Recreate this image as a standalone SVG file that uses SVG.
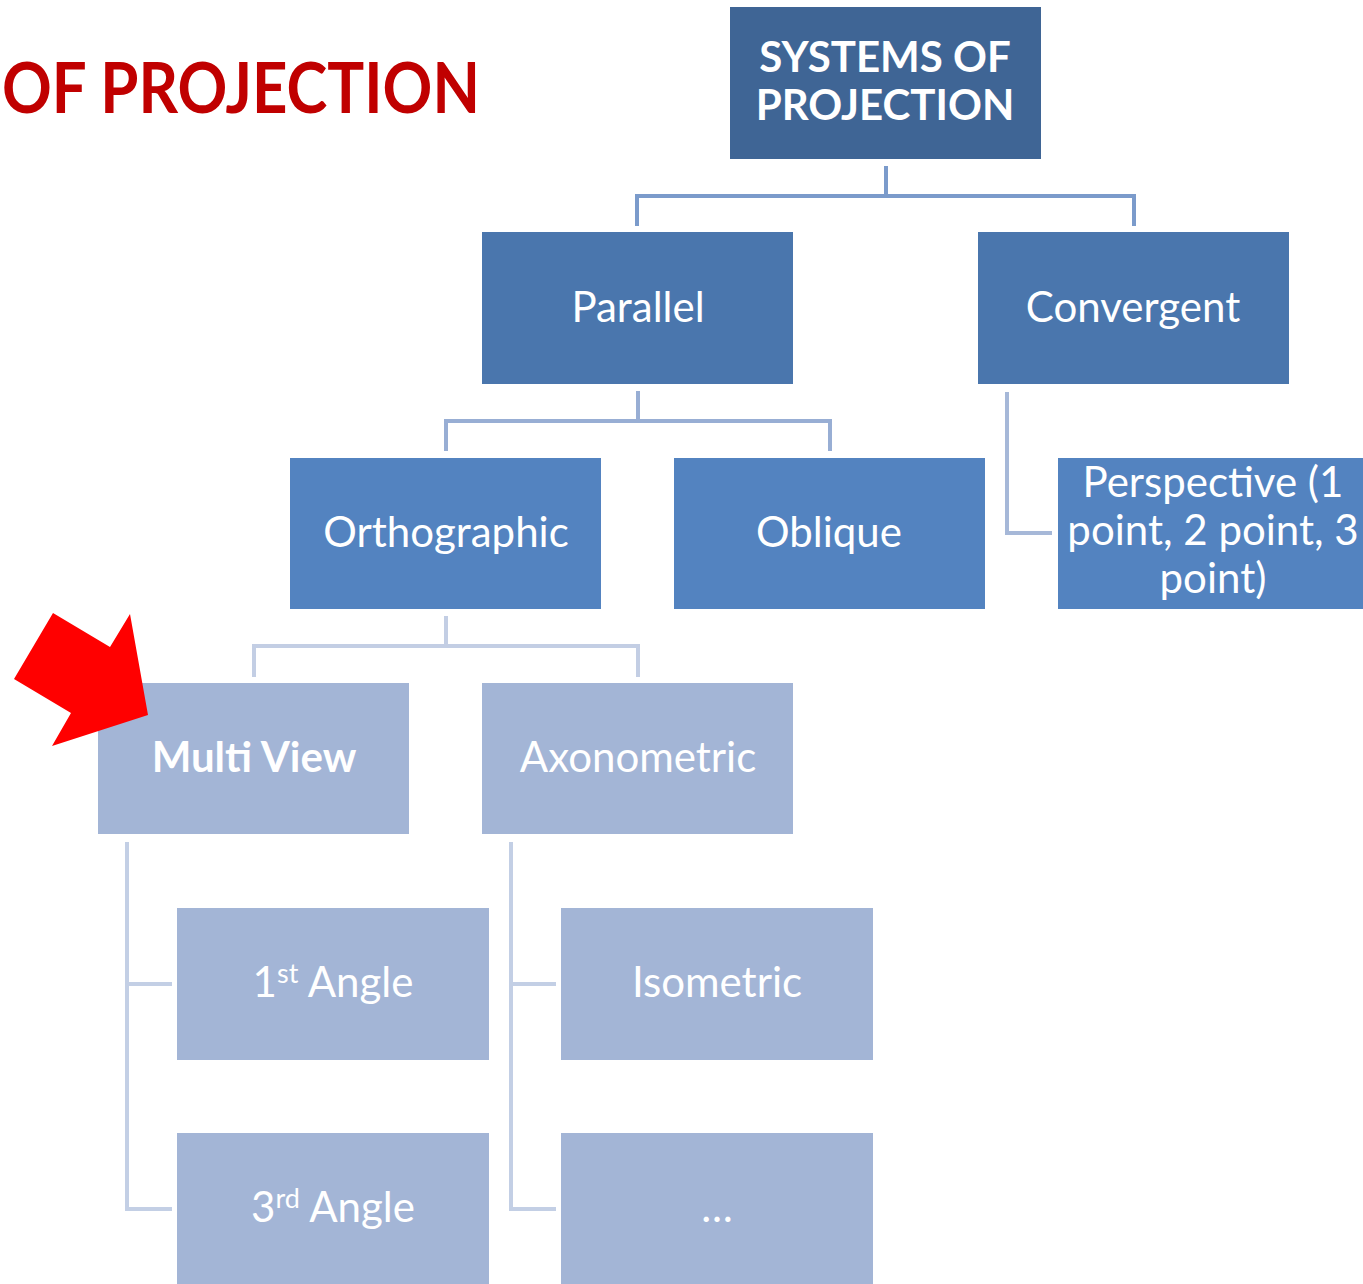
<svg xmlns="http://www.w3.org/2000/svg" width="1363" height="1284" viewBox="0 0 1363 1284">
<style>
.t{font-family:Lato,"Open Sans","Liberation Sans",sans-serif;fill:#fff;text-anchor:middle;font-size:42px}
.b{font-weight:bold}
.l1{fill:#3F6595}
.l2{fill:#4A76AD}
.l3{fill:#5383C0}
.l4{fill:#A3B5D6}
.c{fill:none;stroke-width:4;stroke-linejoin:miter;stroke-linecap:butt}
.sup{font-size:27px}
</style>
<rect width="1363" height="1284" fill="#fff"/>
<text x="2" y="113" textLength="478" lengthAdjust="spacingAndGlyphs" font-family="Lato,'Open Sans','Liberation Sans',sans-serif" font-weight="bold" font-size="70" fill="#C00000">OF PROJECTION</text>
<g id="connectors">
<path class="c" stroke="#7B9BCB" d="M886 166V196M637 226V196H1134V226"/>
<path class="c" stroke="#98AED4" d="M638 391V421M446 451V421H830V451"/>
<path class="c" stroke="#A6B8D8" d="M1007 392V533H1052"/>
<path class="c" stroke="#C3CEE4" d="M446 616V646M254 677V646H638V677"/>
<path class="c" stroke="#C3CFE5" d="M127 842V1209H172M127 984H172"/>
<path class="c" stroke="#C3CFE5" d="M511 842V1209H556M511 984H556"/>
</g>
<g id="n-root"><rect class="l1" x="730" y="7" width="311" height="152"/><text class="t b" x="885" y="72" font-size="35">SYSTEMS OF</text><text class="t b" x="885" y="120" font-size="35">PROJECTION</text></g>
<g id="n-parallel"><rect class="l2" x="482" y="232" width="311" height="152"/><text class="t" x="638" y="322">Parallel</text></g>
<g id="n-convergent"><rect class="l2" x="978" y="232" width="311" height="152"/><text class="t" x="1133" y="322">Convergent</text></g>
<g id="n-ortho"><rect class="l3" x="290" y="458" width="311" height="151"/><text class="t" x="446" y="547">Orthographic</text></g>
<g id="n-oblique"><rect class="l3" x="674" y="458" width="311" height="151"/><text class="t" x="829" y="547">Oblique</text></g>
<g id="n-persp"><rect class="l3" x="1058" y="458" width="310" height="151"/><text class="t" x="1213" y="497">Perspective (1</text><text class="t" x="1213" y="545">point, 2 point, 3</text><text class="t" x="1213" y="593">point)</text></g>
<g id="n-multiview"><rect class="l4" x="98" y="683" width="311" height="151"/><text class="t b" x="254" y="772" font-size="47">Multi View</text></g>
<g id="n-axono"><rect class="l4" x="482" y="683" width="311" height="151"/><text class="t" x="638" y="772">Axonometric</text></g>
<g id="n-first"><rect class="l4" x="177" y="908" width="312" height="152"/><text class="t" x="333" y="997">1<tspan class="sup" dy="-14">st</tspan><tspan dy="14"> Angle</tspan></text></g>
<g id="n-third"><rect class="l4" x="177" y="1133" width="312" height="152"/><text class="t" x="333" y="1222">3<tspan class="sup" dy="-14">rd</tspan><tspan dy="14"> Angle</tspan></text></g>
<g id="n-iso"><rect class="l4" x="561" y="908" width="312" height="152"/><text class="t" x="717" y="997">Isometric</text></g>
<g id="n-etc"><rect class="l4" x="561" y="1133" width="312" height="152"/><text class="t" x="717" y="1222">…</text></g>
<polygon id="arrow" points="53,613 110,647 130,614 148,715 52,746 71,713 14,679" fill="#FF0000"/>
</svg>
